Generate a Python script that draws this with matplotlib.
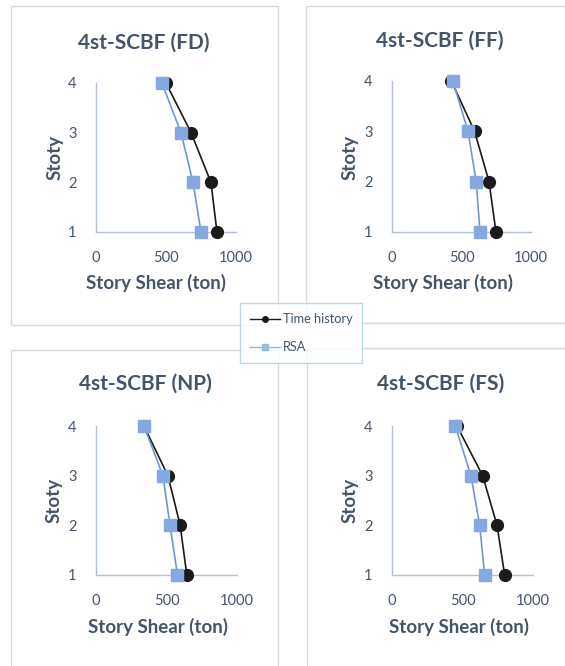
import matplotlib
matplotlib.use("Agg")
import matplotlib.pyplot as plt
from matplotlib.patches import Rectangle
from matplotlib.lines import Line2D

plt.rcParams['font.family'] = ['Lato', 'DejaVu Sans']

# story levels
stories = [1, 2, 3, 4]

# story shear (ton); order: story 1..4
titles = ["4st-SCBF (FD)", "4st-SCBF (FF)", "4st-SCBF (NP)", "4st-SCBF (FS)"]
th_fd = [864, 821, 679, 500]
rsa_fd = [750, 693, 607, 471]
th_ff = [748, 698, 594, 427]
rsa_ff = [633, 606, 547, 438]
th_np = [644, 597, 510, 340]
rsa_np = [578, 525, 475, 340]
th_fs = [799, 745, 643, 461]
rsa_fs = [657, 622, 560, 449]

x_ticks = [0, 500, 1000]
x_label = "Story Shear (ton)"
y_label = "Stoty"
legend_labels = ["Time history", "RSA"]

W, H = 565, 666
TXT = "#44546a"
AXC = "#b4c0d4"
TH_C = "#1a1a1a"
RSA_LINE = "#6f97d8"
RSA_MK = "#86a8e0"

fig = plt.figure(figsize=(W / 100, H / 100), dpi=100)


def fx(px):
    return px / W


def fy(py):
    return 1 - py / H


# panel frames (pixel boxes: left, top, right, bottom)
frames = [(11, 6, 278, 325), (306, 6, 575, 323), (11, 350, 278, 676), (307, 348, 575, 676)]
for l, t, r, b in frames:
    fig.patches.append(Rectangle((fx(l), fy(b)), fx(r - l), (b - t) / H,
                                 transform=fig.transFigure, fill=False,
                                 edgecolor="#d9d9d9", linewidth=1.0))

# axes boxes (left, top, right, bottom) in pixels
boxes = [(96, 83, 236, 232), (392, 81, 531, 232), (96, 426, 237, 575), (392, 426, 533, 575)]
series = [(th_fd, rsa_fd), (th_ff, rsa_ff), (th_np, rsa_np), (th_fs, rsa_fs)]
title_pos = [(144, 43), (440, 41), (145, 384), (441, 384)]
xlab_pos = [(156, 283), (443, 283), (158, 627), (459, 627)]
ylab_pos = [(55, 157), (350, 157), (54, 500), (350, 500)]

for i in range(4):
    l, t, r, b = boxes[i]
    ax = fig.add_axes([fx(l), fy(b), fx(r - l), (b - t) / H])
    th, rsa = series[i]
    ax.plot(th, stories, color=TH_C, lw=1.2, marker="o", ms=8.5,
            mfc=TH_C, mec=TH_C, clip_on=False, zorder=3)
    ax.plot(rsa, stories, color=RSA_LINE, lw=1.2, marker="s", ms=9,
            mfc=RSA_MK, mec=RSA_MK, clip_on=False, zorder=4)
    ax.set_xlim(0, 1000)
    ax.set_ylim(1, 4)
    ax.set_xticks(x_ticks)
    ax.set_yticks(stories)
    for s in ["top", "right"]:
        ax.spines[s].set_visible(False)
    for s in ["left", "bottom"]:
        ax.spines[s].set_color(AXC)
        ax.spines[s].set_linewidth(1.0)
    ax.tick_params(length=0, labelsize=10.5, labelcolor=TXT)
    ax.tick_params(axis="x", pad=14)
    ax.tick_params(axis="y", pad=14)
    ax.patch.set_alpha(0)

    tx, ty = title_pos[i]
    fig.text(fx(tx), fy(ty), titles[i], ha="center", va="center",
             fontsize=15, fontweight="bold", color=TXT)
    lx, ly = xlab_pos[i]
    fig.text(fx(lx), fy(ly), x_label, ha="center", va="center",
             fontsize=13.5, fontweight="bold", color=TXT)
    yx, yy = ylab_pos[i]
    fig.text(fx(yx), fy(yy), y_label, ha="center", va="center", rotation=90,
             fontsize=13.5, fontweight="bold", color=TXT)

# shared legend in the middle
handles = [
    Line2D([], [], color=TH_C, lw=1.0, marker="o", ms=4, mfc=TH_C, mec=TH_C),
    Line2D([], [], color="#8fb8d8", lw=1.0, marker="s", ms=4, mfc="#8fc0dc", mec="#8fc0dc"),
]
leg = fig.legend(handles, legend_labels, loc="center",
                 bbox_to_anchor=(fx(301), fy(333)), fontsize=9.2,
                 frameon=True, fancybox=False, handlelength=2.4,
                 handletextpad=0.2, labelspacing=1.25, borderpad=0.75,
                 borderaxespad=0, labelcolor=TXT)
leg.get_frame().set_edgecolor("#a9d3dc")
leg.get_frame().set_linewidth(1.0)

fig.savefig("out.png", dpi=100)
